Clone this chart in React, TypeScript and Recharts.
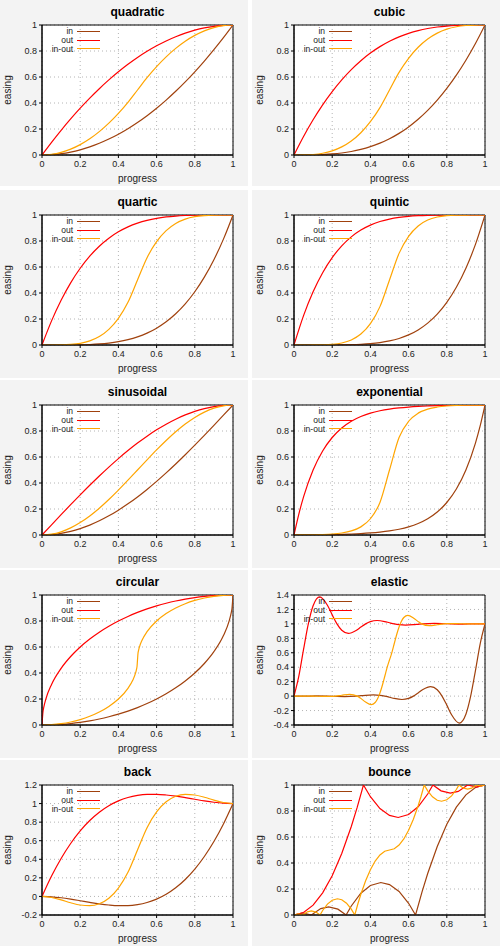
import React from 'react';
import { LineChart, Line, XAxis, YAxis, CartesianGrid, ReferenceArea } from 'recharts';

const progress = [0, 0.05, 0.1, 0.15, 0.2, 0.25, 0.3, 0.35, 0.4, 0.45, 0.5, 0.55, 0.6, 0.65, 0.7, 0.75, 0.8, 0.85, 0.9, 0.95, 1];
const xTicks = [0, 0.2, 0.4, 0.6, 0.8, 1];
const yTicksUnit = [0, 0.2, 0.4, 0.6, 0.8, 1];
const yTicksElastic = [-0.4, -0.2, 0, 0.2, 0.4, 0.6, 0.8, 1, 1.2, 1.4];
const yTicksBack = [-0.2, 0, 0.2, 0.4, 0.6, 0.8, 1, 1.2];
const seriesNames = ['in', 'out', 'in-out'];
const seriesColors = ['#a0410d', '#ff0000', '#ffa500'];

// quadratic
const quadIn = [0, .0025, .01, .0225, .04, .0625, .09, .1225, .16, .2025, .25, .3025, .36, .4225, .49, .5625, .64, .7225, .81, .9025, 1];
const quadOut = [0, .0975, .19, .2775, .36, .4375, .51, .5775, .64, .6975, .75, .7975, .84, .8775, .91, .9375, .96, .9775, .99, .9975, 1];
const quadInOut = [0, .005, .02, .045, .08, .125, .18, .245, .32, .405, .5, .595, .68, .755, .82, .875, .92, .955, .98, .995, 1];

// cubic
const cubicIn = [0, .0001, .001, .0034, .008, .0156, .027, .0429, .064, .0911, .125, .1664, .216, .2746, .343, .4219, .512, .6141, .729, .8574, 1];
const cubicOut = [0, .1426, .271, .3859, .488, .5781, .657, .7254, .784, .8336, .875, .9089, .936, .9571, .973, .9844, .992, .9966, .999, .9999, 1];
const cubicInOut = [0, .0005, .004, .0135, .032, .0625, .108, .1715, .256, .3645, .5, .6355, .744, .8285, .892, .9375, .968, .9865, .996, .9995, 1];

// quartic
const quartIn = [0, 0, .0001, .0005, .0016, .0039, .0081, .015, .0256, .041, .0625, .0915, .1296, .1785, .2401, .3164, .4096, .522, .6561, .8145, 1];
const quartOut = [0, .1855, .3439, .478, .5904, .6836, .7599, .8215, .8704, .9085, .9375, .959, .9744, .985, .9919, .9961, .9984, .9995, .9999, 1, 1];
const quartInOut = [0, .0001, .0008, .0041, .0128, .0313, .0648, .1201, .2048, .3281, .5, .6719, .7952, .8799, .9352, .9687, .9872, .9959, .9992, .9999, 1];

// quintic
const quintIn = [0, 0, 0, .0001, .0003, .001, .0024, .0053, .0102, .0185, .0313, .0503, .0778, .116, .1681, .2373, .3277, .4437, .5905, .7738, 1];
const quintOut = [0, .2262, .4095, .5563, .6723, .7627, .8319, .884, .9222, .9497, .9688, .9815, .9898, .9947, .9976, .999, .9997, .9999, 1, 1, 1];
const quintInOut = [0, 0, .0002, .0012, .0051, .0156, .0389, .084, .1638, .2952, .5, .7048, .8362, .916, .9611, .9844, .9949, .9988, .9998, 1, 1];

// sinusoidal
const sineIn = [0, .0031, .0123, .0276, .049, .0761, .109, .1474, .191, .2396, .2929, .3506, .4122, .4775, .546, .6173, .691, .7666, .8436, .9215, 1];
const sineOut = [0, .0785, .1564, .2334, .309, .3827, .454, .5225, .5878, .6494, .7071, .7604, .809, .8526, .891, .9239, .9511, .9724, .9877, .9969, 1];
const sineInOut = [0, .0062, .0245, .0545, .0955, .1464, .2061, .273, .3455, .4218, .5, .5782, .6545, .727, .7939, .8536, .9045, .9455, .9755, .9938, 1];

// exponential
const expoInX = [0, .05, .1, .15, .2, .25, .3, .35, .4, .45, .5, .55, .6, .65, .7, .75, .8, .85, .9, .95, .975, 1];
const expoIn = [0, .0014, .002, .0028, .0039, .0055, .0078, .011, .0156, .0221, .0313, .0442, .0625, .0884, .125, .1768, .25, .3536, .5, .7071, .8409, 1];
const expoOutX = [0, .025, .05, .1, .15, .2, .25, .3, .35, .4, .45, .5, .55, .6, .65, .7, .75, .8, .85, .9, .95, 1];
const expoOut = [0, .1591, .2929, .5, .6464, .75, .8232, .875, .9116, .9375, .9558, .9688, .9779, .9844, .989, .9922, .9945, .9961, .9972, .998, .9986, 1];
const expoInOut = [0, .001, .002, .0039, .0078, .0156, .0313, .0625, .125, .25, .5, .75, .875, .9375, .9688, .9844, .9922, .9961, .998, .999, 1];

// circular
const circInX = [0, .05, .1, .15, .2, .25, .3, .35, .4, .45, .5, .55, .6, .65, .7, .75, .8, .85, .9, .95, .98, .99, .995, 1];
const circIn = [0, .0013, .005, .0113, .0202, .0318, .0461, .0633, .0835, .107, .134, .1648, .2, .2401, .2859, .3386, .4, .4732, .5641, .6878, .801, .8589, .9001, 1];
const circOutX = [0, .005, .01, .02, .05, .1, .15, .2, .25, .3, .35, .4, .45, .5, .55, .6, .65, .7, .75, .8, .85, .9, .95, 1];
const circOut = [0, .0999, .1411, .199, .3122, .4359, .5268, .6, .6614, .7141, .7599, .8, .8352, .866, .893, .9165, .9367, .9539, .9682, .9798, .9887, .995, .9987, 1];
const circInOutX = [0, .05, .1, .15, .2, .25, .3, .35, .4, .45, .475, .49, .495, .4975, .5, .5025, .505, .51, .525, .55, .6, .65, .7, .75, .8, .85, .9, .95, 1];
const circInOut = [0, .0025, .0101, .0231, .0418, .067, .1, .143, .2, .2821, .3439, .4005, .4295, .45, .5, .55, .5705, .5995, .6561, .7179, .8, .857, .9, .933, .9582, .9769, .9899, .9975, 1];

// elastic
const elasticInX = [0, .05, .1153, .2, .2653, .325, .35, .375, .4153, .45, .475, .5, .525, .5653, .6, .625, .65, .675, .7153, .75, .775, .8, .825, .8653, .9, .925, .95, .975, 1];
const elasticIn = [0, 0, .0021, -.002, -.0058, 0, .0055, .0114, .0165, .011, 0, -.0156, -.0322, -.0466, -.0313, 0, .0442, .091, .1319, .0884, 0, -.125, -.2575, -.3731, -.25, 0, .3536, .7282, 1];
const elasticOutX = [0, .025, .05, .075, .1, .1347, .175, .2, .225, .25, .2847, .325, .35, .375, .4, .4347, .475, .5, .525, .55, .5847, .625, .65, .675, .7347, .8, .8847, .95, 1];
const elasticOut = [0, .2718, .6464, 1, 1.25, 1.3731, 1.2575, 1.125, 1, .9116, .8681, .909, .9558, 1, 1.0313, 1.0466, 1.0322, 1.0156, 1, .989, .9835, .9886, .9945, 1, 1.0058, 1.002, .9979, 1, 1];
const elasticInOutX = [0, .1, .15, .2, .21875, .25, .2915, .33125, .35, .375, .404, .425, .4375, .44375, .45, .46, .47, .48, .49, .5, .51, .52, .53, .54, .55, .55625, .5625, .575, .596, .625, .65, .66875, .7085, .75, .78125, .8, .85, .9, 1];
const elasticInOut = [0, 0, -.0037, -.0039, 0, .012, .0249, 0, -.0313, -.0831, -.1183, -.0884, -.0365, 0, .0434, .1259, .2208, .3215, .4185, .5, .5815, .6785, .7792, .8741, .9566, 1, 1.0365, 1.0884, 1.1183, 1.0831, 1.0313, 1, .9751, .988, 1, 1.0039, 1.0037, 1, 1];

// back
const backIn = [0, -.0039, -.0143, -.0292, -.0465, -.0641, -.0802, -.0926, -.0994, -.0984, -.0877, -.0653, -.029, .023, .0929, .1826, .2942, .4297, .5912, .7806, 1];
const backOut = [0, .2194, .4088, .5703, .7058, .8174, .9071, .977, 1.029, 1.0653, 1.0877, 1.0984, 1.0994, 1.0926, 1.0802, 1.0641, 1.0465, 1.0292, 1.0143, 1.0039, 1];
const backInOut = [0, -.0112, -.0375, -.0682, -.0926, -.0997, -.0788, -.0192, .0899, .2594, .5, .7406, .9101, 1.0192, 1.0788, 1.0997, 1.0926, 1.0682, 1.0375, 1.0112, 1];

// bounce
const bounceInX = [0, .0455, .0909, .14, .1818, .23, .2727, .3, .35, .4, .4545, .5, .55, .6, .6364, .67, .7, .75, .8, .85, .9, .95, 1];
const bounceIn = [0, .0156, 0, .0493, .0625, .0449, 0, .0695, .1674, .2275, .25, .2343, .181, .0899, 0, .1764, .3194, .5273, .6975, .8298, .9244, .9811, 1];
const bounceOutX = [0, .05, .1, .15, .2, .25, .3, .33, .3636, .4, .45, .5, .5455, .6, .65, .7, .7273, .77, .8182, .86, .9091, .9545, 1];
const bounceOut = [0, .0189, .0756, .1702, .3025, .4727, .6806, .8236, 1, .9101, .819, .7657, .75, .7725, .8326, .9305, 1, .9551, .9375, .9507, 1, .9844, 1];
const bounceInOutX = [0, .0228, .0455, .07, .0909, .115, .1364, .15, .175, .2, .2273, .25, .275, .3, .3182, .335, .35, .375, .4, .425, .45, .475, .5, .525, .55, .575, .6, .625, .65, .665, .6818, .7, .725, .75, .7727, .8, .825, .85, .8636, .885, .9091, .93, .9545, .9772, 1];
const bounceInOut = [0, .0078, 0, .0247, .0313, .0225, 0, .0348, .0837, .1138, .125, .1172, .0905, .045, 0, .0882, .1597, .2637, .3488, .4149, .4622, .4906, .5, .5095, .5378, .5851, .6513, .7364, .8403, .9118, 1, .9551, .9095, .8829, .875, .8863, .9163, .9653, 1, .9776, .9688, .9754, 1, .9922, 1];

type Series = { xs: number[]; ys: number[] };
type PanelDef = {
  title: string;
  series: Series[];
  yDomain: [number, number];
  yTicks: number[];
  curve: 'monotone' | 'linear';
};

const S = (xs: number[], ys: number[]): Series => ({ xs, ys });

const panels: PanelDef[] = [
  { title: 'quadratic', series: [S(progress, quadIn), S(progress, quadOut), S(progress, quadInOut)], yDomain: [0, 1], yTicks: yTicksUnit, curve: 'monotone' },
  { title: 'cubic', series: [S(progress, cubicIn), S(progress, cubicOut), S(progress, cubicInOut)], yDomain: [0, 1], yTicks: yTicksUnit, curve: 'monotone' },
  { title: 'quartic', series: [S(progress, quartIn), S(progress, quartOut), S(progress, quartInOut)], yDomain: [0, 1], yTicks: yTicksUnit, curve: 'monotone' },
  { title: 'quintic', series: [S(progress, quintIn), S(progress, quintOut), S(progress, quintInOut)], yDomain: [0, 1], yTicks: yTicksUnit, curve: 'monotone' },
  { title: 'sinusoidal', series: [S(progress, sineIn), S(progress, sineOut), S(progress, sineInOut)], yDomain: [0, 1], yTicks: yTicksUnit, curve: 'monotone' },
  { title: 'exponential', series: [S(expoInX, expoIn), S(expoOutX, expoOut), S(progress, expoInOut)], yDomain: [0, 1], yTicks: yTicksUnit, curve: 'monotone' },
  { title: 'circular', series: [S(circInX, circIn), S(circOutX, circOut), S(circInOutX, circInOut)], yDomain: [0, 1], yTicks: yTicksUnit, curve: 'monotone' },
  { title: 'elastic', series: [S(elasticInX, elasticIn), S(elasticOutX, elasticOut), S(elasticInOutX, elasticInOut)], yDomain: [-0.4, 1.4], yTicks: yTicksElastic, curve: 'monotone' },
  { title: 'back', series: [S(progress, backIn), S(progress, backOut), S(progress, backInOut)], yDomain: [-0.2, 1.2], yTicks: yTicksBack, curve: 'monotone' },
  { title: 'bounce', series: [S(bounceInX, bounceIn), S(bounceOutX, bounceOut), S(bounceInOutX, bounceInOut)], yDomain: [0, 1], yTicks: yTicksUnit, curve: 'linear' },
];

const FONT = '"Liberation Sans", Arial, Helvetica, sans-serif';
const fmt = (v: number) => String(v);

function Panel({ def, left, top, height }: { def: PanelDef; left: number; top: number; height: number }) {
  return (
    <div style={{ position: 'absolute', left, top, width: 248, height, background: '#f3f3f3', overflow: 'hidden' }}>
      <div style={{ position: 'absolute', left: 42, width: 191, top: 5, textAlign: 'center', fontFamily: FONT, fontWeight: 'bold', fontSize: 12, lineHeight: '15px', color: '#000' }}>
        {def.title}
      </div>
      <LineChart width={248} height={188} margin={{ top: 25, right: 15, bottom: 0, left: 0 }}>
        <CartesianGrid stroke="#b4b4b4" strokeDasharray="1 3" fill="#ffffff" fillOpacity={1} />
        <XAxis
          type="number"
          dataKey="x"
          domain={[0, 1]}
          ticks={xTicks}
          interval={0}
          allowDataOverflow
          height={33}
          tickSize={3}
          tickMargin={3}
          axisLine={{ stroke: '#000' }}
          tickLine={{ stroke: '#000' }}
          tick={{ fontSize: 9, fill: '#222' }}
          tickFormatter={fmt}
          label={{ value: 'progress', position: 'insideBottom', offset: 6, style: { fontSize: 10, fill: '#222' } }}
        />
        <YAxis
          type="number"
          domain={def.yDomain}
          ticks={def.yTicks}
          interval={0}
          allowDataOverflow
          width={42}
          tickSize={3}
          tickMargin={2}
          axisLine={{ stroke: '#000' }}
          tickLine={{ stroke: '#000' }}
          tick={{ fontSize: 9, fill: '#222' }}
          tickFormatter={fmt}
          label={{ value: 'easing', angle: -90, position: 'insideLeft', offset: 7.5, style: { fontSize: 10, fill: '#222', textAnchor: 'middle' } }}
        />
        <ReferenceArea x1={0} x2={1} y1={def.yDomain[0]} y2={def.yDomain[1]} fill="none" fillOpacity={0} stroke="#000" strokeWidth={1} />
        {def.series.map((s, i) => (
          <Line
            key={seriesNames[i]}
            name={seriesNames[i]}
            data={s.xs.map((x, j) => ({ x, y: s.ys[j] }))}
            dataKey="y"
            type={def.curve}
            stroke={seriesColors[i]}
            strokeWidth={1.2}
            dot={false}
            activeDot={false}
            isAnimationActive={false}
          />
        ))}
      </LineChart>
      <div style={{ position: 'absolute', left: 0, top: 27.4, fontFamily: FONT, fontSize: 8.5, color: '#222' }}>
        {seriesNames.map((n, i) => (
          <div key={n} style={{ display: 'flex', alignItems: 'center', height: 8.65 }}>
            <span style={{ width: 73, textAlign: 'right', lineHeight: '8.65px' }}>{n}</span>
            <span style={{ marginLeft: 4, width: 23, height: 0, borderTop: `1.5px solid ${seriesColors[i]}` }} />
          </div>
        ))}
      </div>
    </div>
  );
}

export default function App() {
  return (
    <div style={{ position: 'absolute', left: 0, top: 0, width: 500, height: 946, background: '#fff', overflow: 'hidden', fontFamily: FONT }}>
      {panels.map((p, i) => {
        const row = Math.floor(i / 2);
        const col = i % 2;
        return <Panel key={p.title} def={p} left={col * 252} top={row * 190} height={row === 0 ? 186 : 188} />;
      })}
    </div>
  );
}
